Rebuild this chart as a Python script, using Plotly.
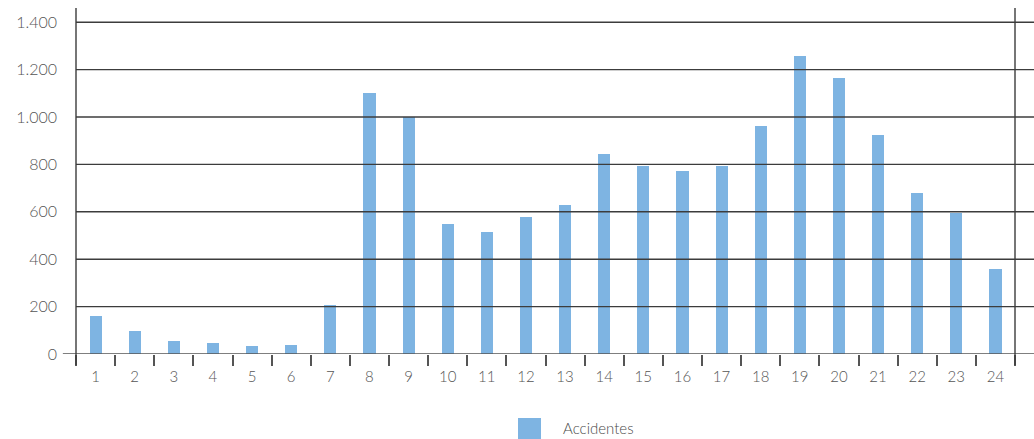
import plotly.graph_objects as go

# Accidents by hour of the day
horas = [str(h) for h in range(1, 25)]
accidentes = [160, 95, 56, 47, 34, 38, 208, 1100, 1000, 549, 515, 579,
              628, 845, 795, 772, 795, 961, 1258, 1164, 923, 680, 597, 357]
y_ticks = [0, 200, 400, 600, 800, 1000, 1200, 1400]
serie = "Accidentes"

bar_color = "#7EB4E2"
line_color = "#3c3c3c"
text_color = "#555555"
font_family = "Lato, 'Open Sans', sans-serif"

fig = go.Figure()
fig.add_trace(go.Bar(
    x=horas, y=accidentes, name=serie, width=0.31,
    marker=dict(color=bar_color, line=dict(width=0)),
    showlegend=False,
))

# horizontal grid, extended slightly past the right frame line
shapes = []
for v in y_ticks[1:]:
    shapes.append(dict(type="line", xref="paper", yref="y", x0=0, x1=1.021,
                       y0=v, y1=v, line=dict(color=line_color, width=1.4)))
# zero line reaching left of the axis
shapes.append(dict(type="line", xref="paper", yref="y", x0=-0.014, x1=1.021,
                   y0=0, y1=0, line=dict(color="#555555", width=1.6)))
# left and right frame lines
for xp in (0, 1):
    shapes.append(dict(type="line", xref="paper", yref="paper", x0=xp, x1=xp,
                       y0=-0.032, y1=1, line=dict(color=line_color, width=1.4)))
# legend swatch
shapes.append(dict(type="rect", xref="paper", yref="paper",
                   x0=(518 - 76) / 939, x1=(541 - 76) / 939,
                   y0=-(418 - 354) / 346, y1=-(439 - 354) / 346,
                   fillcolor=bar_color, line=dict(width=0)))

fig.update_layout(
    width=1034, height=439,
    margin=dict(l=76, r=19, t=8, b=85),
    paper_bgcolor="white", plot_bgcolor="white",
    separators=",.",
    font=dict(family=font_family, color=text_color, size=15, weight=300),
    bargap=0,
    shapes=shapes,
    annotations=[dict(text=serie, xref="paper", yref="paper",
                      x=(561 - 76) / 939, y=-(428 - 354) / 346,
                      xanchor="left", yanchor="middle", showarrow=False,
                      font=dict(size=15, color="#4a4a4a", family=font_family,
                                weight=300))],
    xaxis=dict(
        type="category", showgrid=False, showline=False, zeroline=False,
        ticks="outside", tickson="boundaries", ticklen=11, tickwidth=1.5,
        tickcolor="#555555", ticklabelstandoff=12,
        tickfont=dict(size=15, color=text_color, weight=300),
    ),
    yaxis=dict(
        range=[0, 1460], tickvals=y_ticks, tickformat=",d",
        showgrid=False, zeroline=False, showline=False, ticks="",
        ticklabelstandoff=18,
        tickfont=dict(size=16, color=text_color, weight=300),
    ),
)

fig.write_html("out.html")
